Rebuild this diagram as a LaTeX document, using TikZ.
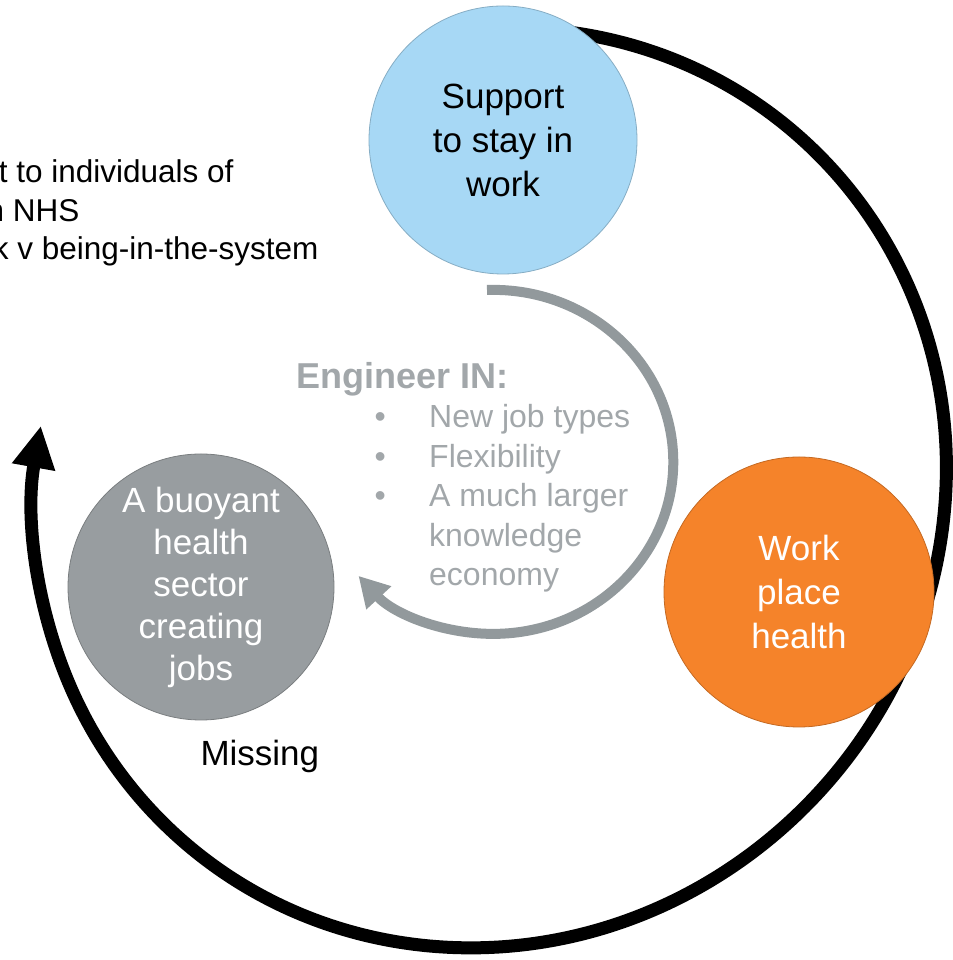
\documentclass[tikz,border=0pt]{standalone}
\usepackage{fontspec}
\setmainfont{Liberation Sans}
\usetikzlibrary{arrows.meta}
\usepackage{xcolor}
\definecolor{supportblue}{RGB}{167,216,245}
\definecolor{workorange}{RGB}{245,131,42}
\definecolor{buoyantgrey}{RGB}{152,157,160}
\definecolor{loopgrey}{RGB}{146,153,156}
\definecolor{notegrey}{RGB}{162,167,170}

\begin{document}
\begin{tikzpicture}[>={Triangle[length=42bp,width=41bp]},line join=bevel,
    bubble/.style={circle, inner sep=0pt, minimum size=#1, align=center, font=\fontsize{35bp}{44bp}\selectfont}]
    \useasboundingbox (0bp,0bp) rectangle (953bp,960bp);
    %% outer loop
    \begin{scope}[shift={(490bp,472bp)}, rotate=50]
      \coordinate (outerstart) at (35:468bp and 448bp);
      \draw [line width=13bp, ->] (outerstart) arc[start angle=35, end angle=-239, x radius=468bp, y radius=448bp];
    \end{scope}
    %% inner loop
    \coordinate (innerstart) at (487bp,670bp);
    \draw [loopgrey, line width=10bp, -{Triangle[length=30bp,width=32bp]}] (innerstart) arc[start angle=92, end angle=-138.5, x radius=180bp, y radius=172bp];
    %%
    \node[bubble=268bp, fill=supportblue, draw=supportblue!80!black, line width=0.8bp] (support) at (503bp,820bp) {Support\\to stay in\\work};
      \node[bubble=270bp, fill=workorange, draw=workorange!80!black, line width=0.8bp, text=white] (workplace) at (799bp,368bp) {Work\\place\\health};
      \node[bubble=266bp, fill=buoyantgrey, draw=buoyantgrey!80!black, line width=0.8bp, text=white, font=\fontsize{35bp}{42bp}\selectfont] (buoyant) at (201bp,373bp) {A buoyant\\health\\sector\\creating\\jobs};
      \node[anchor=base west, font=\fontsize{35bp}{42bp}\selectfont] (missing) at (197bp,194bp) {Missing};
    %% cut-off note
      \node[anchor=base east, font=\fontsize{31.5bp}{38bp}\selectfont] (noteone) at (237bp,777bp) {t to individuals of};
      \node[anchor=base east, font=\fontsize{31.5bp}{38bp}\selectfont] (notetwo) at (83bp,738bp) {n NHS};
      \node[anchor=base east, font=\fontsize{31.5bp}{38bp}\selectfont] (notethree) at (322bp,700bp) {k v being-in-the-system};
    %% engineer in
      \node[anchor=base west, text=notegrey, font=\bfseries\fontsize{36bp}{42bp}\selectfont] (engineer) at (293bp,571bp) {Engineer IN:};
      \node[anchor=base west, align=left, inner sep=0pt, text=notegrey, font=\fontsize{32bp}{39.5bp}\selectfont] (goals) at (374.5bp,374bp) {\makebox[54.5bp][l]{\textbullet}New job types\\\makebox[54.5bp][l]{\textbullet}Flexibility\\\makebox[54.5bp][l]{\textbullet}A much larger\\\makebox[54.5bp][l]{}knowledge\\\makebox[54.5bp][l]{}economy};
    %
\end{tikzpicture}
\end{document}
